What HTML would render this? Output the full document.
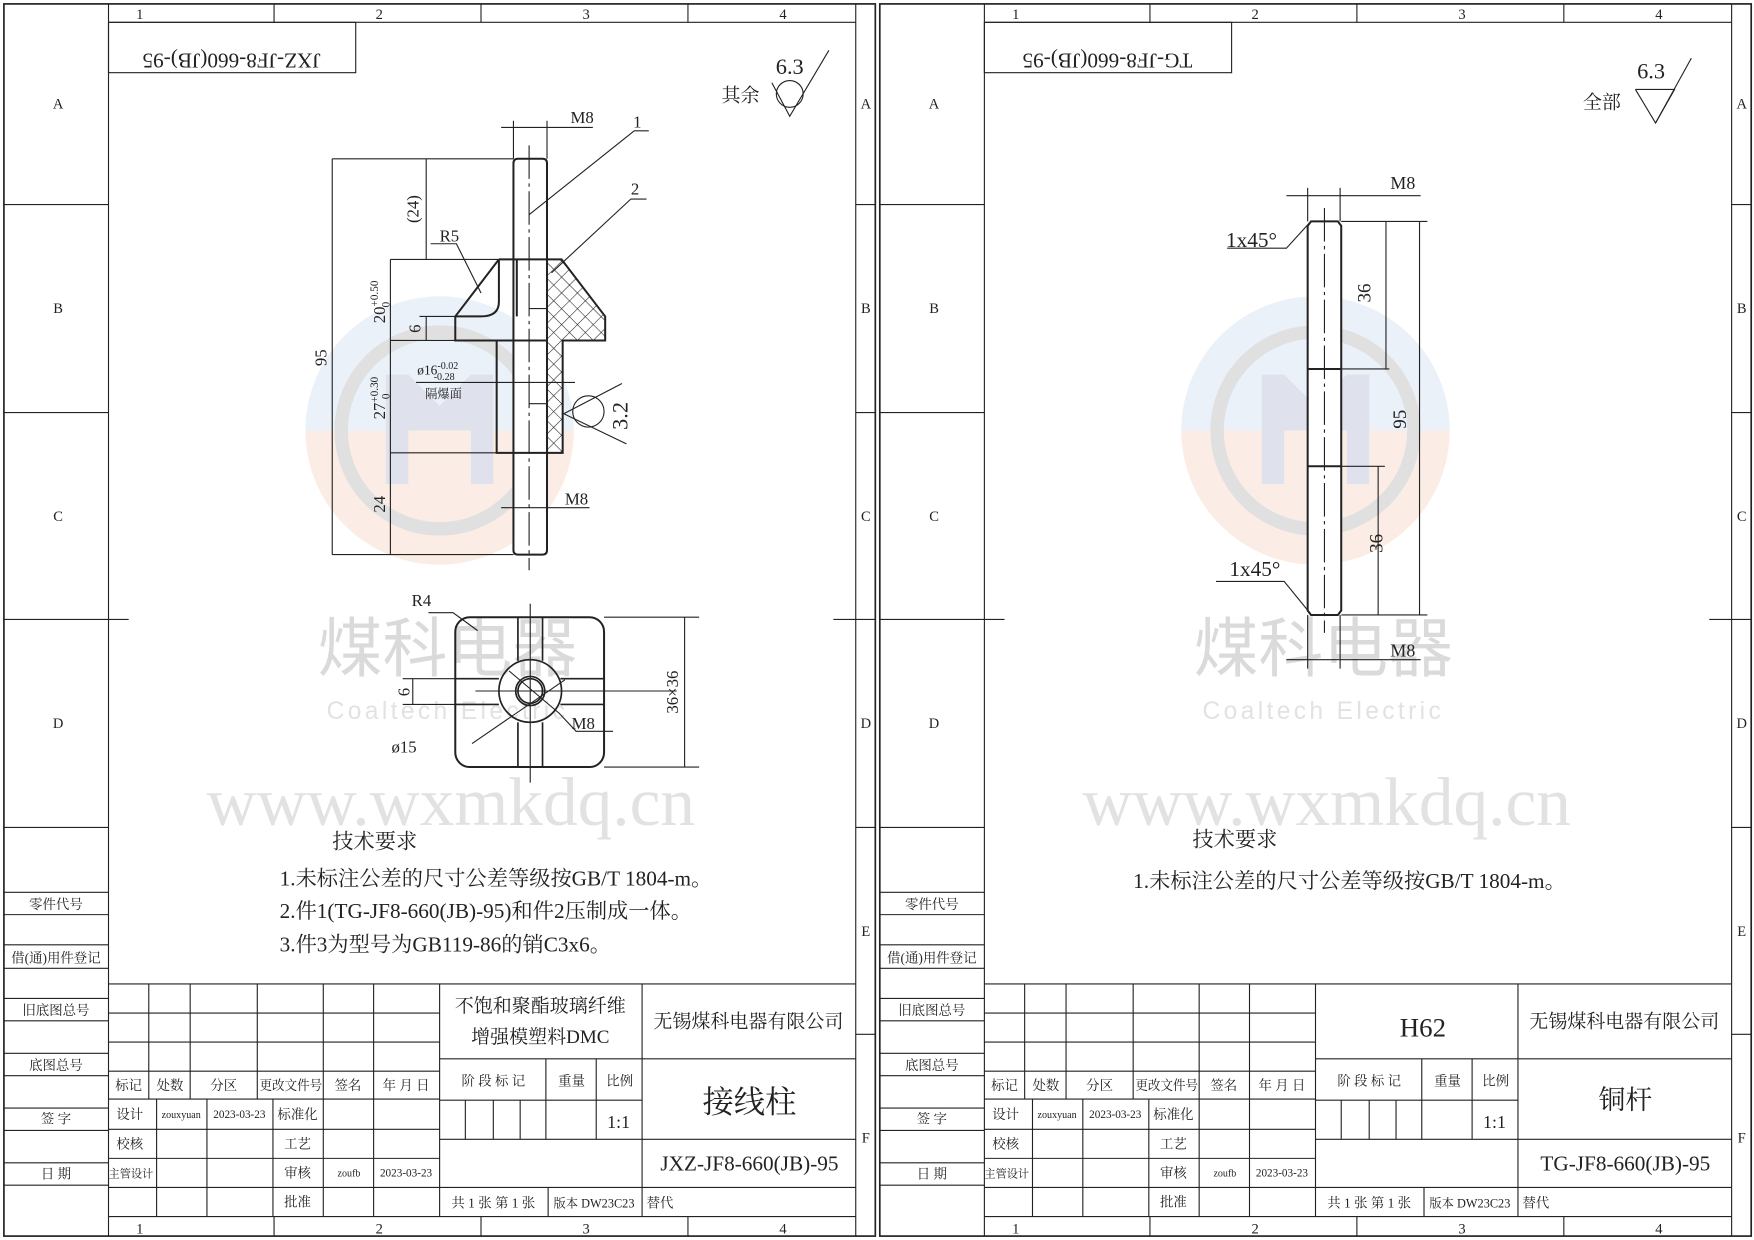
<!DOCTYPE html>
<html><head><meta charset="utf-8"><style>
html,body{margin:0;padding:0;background:#fff;}
svg{display:block;}
text{font-family:"Liberation Serif","Noto Serif CJK SC",serif;fill:#222;}
</style></head><body>
<svg width="1754" height="1240" viewBox="0 0 1568 1109" preserveAspectRatio="none" xmlns="http://www.w3.org/2000/svg">
<defs>
<pattern id="hat" width="10" height="10" patternUnits="userSpaceOnUse" patternTransform="rotate(45)">
<rect width="10" height="10" fill="#fff"/>
<line x1="0" y1="0" x2="0" y2="10" stroke="#222" stroke-width="1"/>
<line x1="0" y1="0" x2="10" y2="0" stroke="#222" stroke-width="1"/>
</pattern>
<g id="wm">
<path d="M-120,0 A120,120 0 0 1 120,0 Z" fill="#ebf1f8"/>
<path d="M-120,0 A120,120 0 0 0 120,0 Z" fill="#fbede5"/>
<circle cx="0" cy="0" r="88" fill="none" stroke="#e0e0e0" stroke-width="12"/>
<path d="M-48,-50 L-28,-50 L0,-22 L28,-50 L48,-50 L48,48 L28,48 L28,0 L0,0 L-28,0 L-28,48 L-48,48 Z" fill="#dfe2ec"/>
</g>
<g id="frame" fill="none" stroke="#222">
<rect x="3.5" y="3.5" width="779" height="1102" stroke-width="1.5"/>
<line x1="97" y1="20" x2="765" y2="20"/>
<line x1="97" y1="1088" x2="765" y2="1088"/>
<line x1="97" y1="3" x2="97" y2="1106"/>
<line x1="765" y1="3" x2="765" y2="1106"/>
<g stroke-width="1">
<line x1="245" y1="3" x2="245" y2="20"/><line x1="430" y1="3" x2="430" y2="20"/><line x1="615" y1="3" x2="615" y2="20"/>
<line x1="245" y1="1088" x2="245" y2="1106"/><line x1="430" y1="1088" x2="430" y2="1106"/><line x1="615" y1="1088" x2="615" y2="1106"/>
<line x1="765" y1="183" x2="783" y2="183"/><line x1="765" y1="369" x2="783" y2="369"/><line x1="745" y1="554" x2="783" y2="554"/><line x1="765" y1="740" x2="783" y2="740"/><line x1="765" y1="925" x2="783" y2="925"/>
<line x1="3" y1="183" x2="97" y2="183"/><line x1="3" y1="369" x2="97" y2="369"/><line x1="3" y1="554" x2="115" y2="554"/><line x1="3" y1="740" x2="97" y2="740"/>
<line x1="3" y1="798" x2="97" y2="798"/><line x1="3" y1="818" x2="97" y2="818"/>
<line x1="3" y1="845" x2="97" y2="845"/><line x1="3" y1="866" x2="97" y2="866"/>
<line x1="3" y1="893" x2="97" y2="893"/><line x1="3" y1="913" x2="97" y2="913"/>
<line x1="3" y1="942" x2="97" y2="942"/><line x1="3" y1="962" x2="97" y2="962"/>
<line x1="3" y1="991" x2="97" y2="991"/><line x1="3" y1="1011" x2="97" y2="1011"/>
<line x1="3" y1="1040" x2="97" y2="1040"/><line x1="3" y1="1060" x2="97" y2="1060"/>
<rect x="97" y="20" width="221" height="45"/>
<line x1="97" y1="880" x2="765" y2="880"/>
<line x1="97" y1="906" x2="393" y2="906"/><line x1="97" y1="932" x2="393" y2="932"/>
<line x1="97" y1="958" x2="393" y2="958"/><line x1="97" y1="983" x2="393" y2="983"/>
<line x1="97" y1="1010" x2="393" y2="1010"/><line x1="97" y1="1036" x2="393" y2="1036"/><line x1="97" y1="1062" x2="765" y2="1062"/>
<line x1="133" y1="880" x2="133" y2="983"/><line x1="170" y1="880" x2="170" y2="983"/><line x1="230" y1="880" x2="230" y2="983"/>
<line x1="289" y1="880" x2="289" y2="1088"/><line x1="334" y1="880" x2="334" y2="1088"/><line x1="393" y1="880" x2="393" y2="1088"/>
<line x1="140" y1="983" x2="140" y2="1088"/><line x1="185" y1="983" x2="185" y2="1088"/><line x1="244" y1="983" x2="244" y2="1088"/>
<line x1="393" y1="947" x2="765" y2="947"/><line x1="393" y1="984" x2="574" y2="984"/><line x1="393" y1="1019" x2="765" y2="1019"/>
<line x1="574" y1="880" x2="574" y2="1088"/>
<line x1="488" y1="947" x2="488" y2="1019"/><line x1="533" y1="947" x2="533" y2="1019"/>
<line x1="416" y1="984" x2="416" y2="1019"/><line x1="441" y1="984" x2="441" y2="1019"/><line x1="465" y1="984" x2="465" y2="1019"/>
<line x1="490" y1="1062" x2="490" y2="1088"/>
</g>
</g>
<g id="ftext">
<g font-size="13" text-anchor="middle">
<text x="125" y="17">1</text><text x="339" y="17">2</text><text x="524" y="17">3</text><text x="700" y="17">4</text>
<text x="125" y="1103">1</text><text x="339" y="1103">2</text><text x="524" y="1103">3</text><text x="700" y="1103">4</text>
<text x="52" y="97">A</text><text x="52" y="280">B</text><text x="52" y="466">C</text><text x="52" y="651">D</text>
<text x="774" y="97">A</text><text x="774" y="280">B</text><text x="774" y="466">C</text><text x="774" y="651">D</text><text x="774" y="837">E</text><text x="774" y="1022">F</text>
</g>
<g font-size="12" text-anchor="middle">
<text x="50" y="813">零件代号</text><text x="50" y="861">借(通)用件登记</text><text x="50" y="908">旧底图总号</text>
<text x="50" y="957">底图总号</text><text x="50" y="1005">签 字</text><text x="50" y="1054">日 期</text>
</g>
<g font-size="12" text-anchor="middle">
<text x="115" y="975">标记</text><text x="152" y="975">处数</text><text x="200" y="975">分区</text><text x="260" y="975" textLength="56" lengthAdjust="spacingAndGlyphs">更改文件号</text><text x="311" y="975">签名</text><text x="363" y="975">年 月 日</text>
<text x="116" y="1001">设计</text><text x="116" y="1027">校核</text><text x="117" y="1053" font-size="10">主管设计</text>
<text x="266" y="1001">标准化</text><text x="266" y="1027">工艺</text><text x="266" y="1053">审核</text><text x="266" y="1079">批准</text>
<text x="162" y="1000" font-size="9">zouxyuan</text><text x="214" y="1000" font-size="10">2023-03-23</text>
<text x="312" y="1052" font-size="9">zoufb</text><text x="363" y="1052" font-size="10">2023-03-23</text>
<text x="441" y="971">阶 段 标 记</text><text x="511" y="971">重量</text><text x="554" y="971">比例</text>
<text x="553" y="1009" font-size="16">1:1</text>
<text x="441" y="1080">共 1 张  第 1 张</text><text x="531" y="1080" font-size="11">版本 DW23C23</text><text x="590" y="1080">替代</text>
<text x="669" y="919" font-size="17">无锡煤科电器有限公司</text>
</g>
</g>
</defs>

<rect width="1568" height="1109" fill="#fff"/>

<use href="#wm" x="393" y="385"/>
<use href="#wm" x="1176" y="385"/>
<g text-anchor="middle">
<text x="400" y="600" font-size="58" style="fill:#dadada;font-family:'Noto Sans CJK SC',sans-serif">煤科电器</text>
<text x="400" y="643" font-size="22" letter-spacing="3" style="fill:#e2e2e2;font-family:'Liberation Sans',sans-serif">Coaltech Electric</text>
<text x="1183" y="600" font-size="58" style="fill:#dadada;font-family:'Noto Sans CJK SC',sans-serif">煤科电器</text>
<text x="1183" y="643" font-size="22" letter-spacing="3" style="fill:#e2e2e2;font-family:'Liberation Sans',sans-serif">Coaltech Electric</text>
<text x="403" y="738" font-size="62" style="fill:#e2e2e2">www.wxmkdq.cn</text>
<text x="1186" y="738" font-size="62" style="fill:#e2e2e2">www.wxmkdq.cn</text>
</g>

<use href="#frame"/>
<use href="#ftext"/>
<use href="#frame" x="783"/>
<use href="#ftext" x="783"/>

<text x="207" y="36" font-size="19" text-anchor="middle" transform="rotate(180 207 42)">JXZ-JF8-660(JB)-95</text>
<text x="483" y="905" font-size="17" text-anchor="middle">不饱和聚酯玻璃纤维</text>
<text x="483" y="933" font-size="17" text-anchor="middle">增强模塑料DMC</text>
<text x="670" y="995" font-size="28" text-anchor="middle">接线柱</text>
<text x="670" y="1047" font-size="19" text-anchor="middle">JXZ-JF8-660(JB)-95</text>

<text x="990" y="36" font-size="19" text-anchor="middle" transform="rotate(180 990 42)">TG-JF8-660(JB)-95</text>
<text x="1272" y="927" font-size="24" text-anchor="middle">H62</text>
<text x="1453" y="992" font-size="24" text-anchor="middle">铜杆</text>
<text x="1453" y="1047" font-size="19" text-anchor="middle">TG-JF8-660(JB)-95</text>

<g fill="none" stroke="#222" stroke-width="1">
<polyline points="690,74 706,104 741,45"/><circle cx="706" cy="84" r="12"/>
<polyline points="1462,80 1497,80 1480,110 1462,80"/><line x1="1480" y1="110" x2="1512" y2="52"/>
</g>
<text x="706" y="66" font-size="20" text-anchor="middle">6.3</text>
<text x="662" y="91" font-size="17" text-anchor="middle">其余</text>
<text x="1476" y="70" font-size="20" text-anchor="middle">6.3</text>
<text x="1432" y="97" font-size="17" text-anchor="middle">全部</text>

<g font-size="19">
<text x="297" y="759">技术要求</text>
<text x="250" y="792">1.未标注公差的尺寸公差等级按GB/T 1804-m。</text>
<text x="250" y="821">2.件1(TG-JF8-660(JB)-95)和件2压制成一体。</text>
<text x="250" y="851">3.件3为型号为GB119-86的销C3x6。</text>
<text x="1066" y="757">技术要求</text>
<text x="1013" y="794">1.未标注公差的尺寸公差等级按GB/T 1804-m。</text>
</g>

<g fill="none" stroke="#222" stroke-width="1.8">
<path d="M459,146 Q459,142 463,142 L485,142 Q489,142 489,146 L489,492 Q489,496 485,496 L463,496 Q459,496 459,492 Z" fill="#fff"/>
<path d="M489,232 L502,232 L541,283 L541,304.5 L503,304.5 L503,405 L489,405 Z" fill="url(#hat)"/>
<path d="M446,232 L489,232 M446,232 L407,283 L407,304.5 L489,304.5 M462,232 L462,283" />
<path d="M407,283 L430,283 Q446,283 446,270 L446,232"/>
<path d="M444,304.5 L444,405 L489,405"/>
</g>
<g fill="none" stroke="#222" stroke-width="1">
<line x1="473" y1="130" x2="473" y2="510" stroke-dasharray="30,4,3,4"/>
<line x1="473" y1="276" x2="489" y2="276"/><line x1="473" y1="361" x2="489" y2="361"/>
<line x1="297" y1="142" x2="459" y2="142"/><line x1="297" y1="496" x2="459" y2="496"/>
<line x1="297" y1="142" x2="297" y2="496"/>
<line x1="381" y1="142" x2="381" y2="232"/><line x1="349" y1="232" x2="446" y2="232"/>
<line x1="349" y1="232" x2="349" y2="496"/><line x1="349" y1="304.5" x2="407" y2="304.5"/>
<line x1="349" y1="405" x2="444" y2="405"/>
<line x1="381" y1="283" x2="381" y2="304.5"/><line x1="375" y1="283" x2="407" y2="283"/>
<line x1="448" y1="114" x2="530" y2="114"/><line x1="459" y1="108" x2="459" y2="142"/><line x1="489" y1="108" x2="489" y2="142"/>
<line x1="448" y1="454" x2="527" y2="454"/>
<line x1="372" y1="342" x2="514" y2="342"/>
<polyline points="473,192 567,117 580,117"/>
<polyline points="493,244 564,178 578,178"/>
<polyline points="385,218 408,218 430,262"/>
<circle cx="526" cy="368" r="14"/>
<polyline points="556,343 504,370 560,397"/>
</g>
<g font-size="15">
<text x="510" y="110">M8</text><text x="505" y="451">M8</text>
<text x="566" y="114">1</text><text x="564" y="174">2</text>
<text x="393" y="216">R5</text>
<text x="373" y="335" font-size="12">ø16<tspan font-size="9" dy="-5">-0.02</tspan><tspan font-size="9" dx="-22" dy="10">-0.28</tspan></text>
<text x="380" y="356" font-size="11">隔爆面</text>
<text transform="translate(292,320) rotate(-90)" text-anchor="middle">95</text>
<text transform="translate(374,187) rotate(-90)" text-anchor="middle">(24)</text>
<text transform="translate(344,270) rotate(-90)" text-anchor="middle">20<tspan font-size="10" dy="-6">+0.50</tspan><tspan font-size="10" dx="-24" dy="10">0</tspan></text>
<text transform="translate(376,294) rotate(-90)" text-anchor="middle">6</text>
<text transform="translate(344,356) rotate(-90)" text-anchor="middle">27<tspan font-size="10" dy="-6">+0.30</tspan><tspan font-size="10" dx="-20" dy="10">0</tspan></text>
<text transform="translate(344,451) rotate(-90)" text-anchor="middle">24</text>
<text transform="translate(561,372) rotate(-90)" text-anchor="middle" font-size="20">3.2</text>
</g>

<g fill="none" stroke="#222">
<rect x="407" y="552" width="133" height="134" rx="13" stroke-width="1.8"/>
<g stroke-width="1.5">
<line x1="463" y1="552" x2="463" y2="591"/><line x1="485" y1="552" x2="485" y2="591"/>
<line x1="463" y1="646" x2="463" y2="686"/><line x1="485" y1="646" x2="485" y2="686"/>
<line x1="407" y1="607" x2="446" y2="607"/><line x1="407" y1="630" x2="446" y2="630"/>
<line x1="501" y1="607" x2="540" y2="607"/><line x1="501" y1="630" x2="540" y2="630"/>
<circle cx="474" cy="618" r="28"/><circle cx="474" cy="618" r="13"/><circle cx="474" cy="618" r="11"/>
</g>
<g stroke-width="1">
<line x1="474" y1="540" x2="474" y2="700"/><line x1="425" y1="618" x2="605" y2="618"/>
<line x1="540" y1="552" x2="625" y2="552"/><line x1="540" y1="686" x2="625" y2="686"/>
<line x1="612" y1="552" x2="612" y2="686"/>
<line x1="360" y1="607" x2="407" y2="607"/><line x1="360" y1="630" x2="407" y2="630"/><line x1="369" y1="607" x2="369" y2="630"/>
<polyline points="383,548 405,548 427,564"/>
<polyline points="422,665 505,608"/>
<polyline points="455,600 500,638 515,654 548,654"/>
</g>
</g>
<g font-size="15">
<text x="368" y="542">R4</text>
<text x="350" y="673">ø15</text>
<text x="511" y="652">M8</text>
<text transform="translate(366,619) rotate(-90)" text-anchor="middle">6</text>
<text transform="translate(606,619) rotate(-90)" text-anchor="middle">36×36</text>
</g>

<g fill="none" stroke="#222">
<path d="M1172,198 L1196,198 L1199,202 L1199,546 L1196,550 L1172,550 L1169,546 L1169,202 Z" stroke-width="1.8" fill="#fff"/>
<line x1="1169" y1="330" x2="1199" y2="330" stroke-width="1.8"/>
<line x1="1169" y1="417" x2="1199" y2="417" stroke-width="1.8"/>
<g stroke-width="1">
<line x1="1184" y1="186" x2="1184" y2="566" stroke-dasharray="30,4,3,4"/>
<line x1="1150" y1="175" x2="1270" y2="175"/><line x1="1169" y1="168" x2="1169" y2="198"/><line x1="1198" y1="168" x2="1198" y2="198"/>
<line x1="1150" y1="590" x2="1270" y2="590"/><line x1="1169" y1="550" x2="1169" y2="598"/><line x1="1198" y1="550" x2="1198" y2="598"/>
<line x1="1199" y1="198" x2="1276" y2="198"/><line x1="1199" y1="330" x2="1242" y2="330"/>
<line x1="1199" y1="417" x2="1238" y2="417"/><line x1="1199" y1="550" x2="1276" y2="550"/>
<line x1="1239" y1="198" x2="1239" y2="330"/><line x1="1269" y1="198" x2="1269" y2="550"/><line x1="1232" y1="417" x2="1232" y2="550"/>
<polyline points="1097,222 1150,222 1170,200"/>
<polyline points="1087,520 1148,520 1170,547"/>
</g>
</g>
<g font-size="19">
<text x="1243" y="169" font-size="16">M8</text><text x="1243" y="587" font-size="16">M8</text>
<text x="1096" y="221">1x45°</text><text x="1099" y="515">1x45°</text>
<text transform="translate(1225,262) rotate(-90)" text-anchor="middle" font-size="17">36</text>
<text transform="translate(1257,375) rotate(-90)" text-anchor="middle" font-size="17">95</text>
<text transform="translate(1236,486) rotate(-90)" text-anchor="middle" font-size="17">36</text>
</g>
</svg>
</body></html>
